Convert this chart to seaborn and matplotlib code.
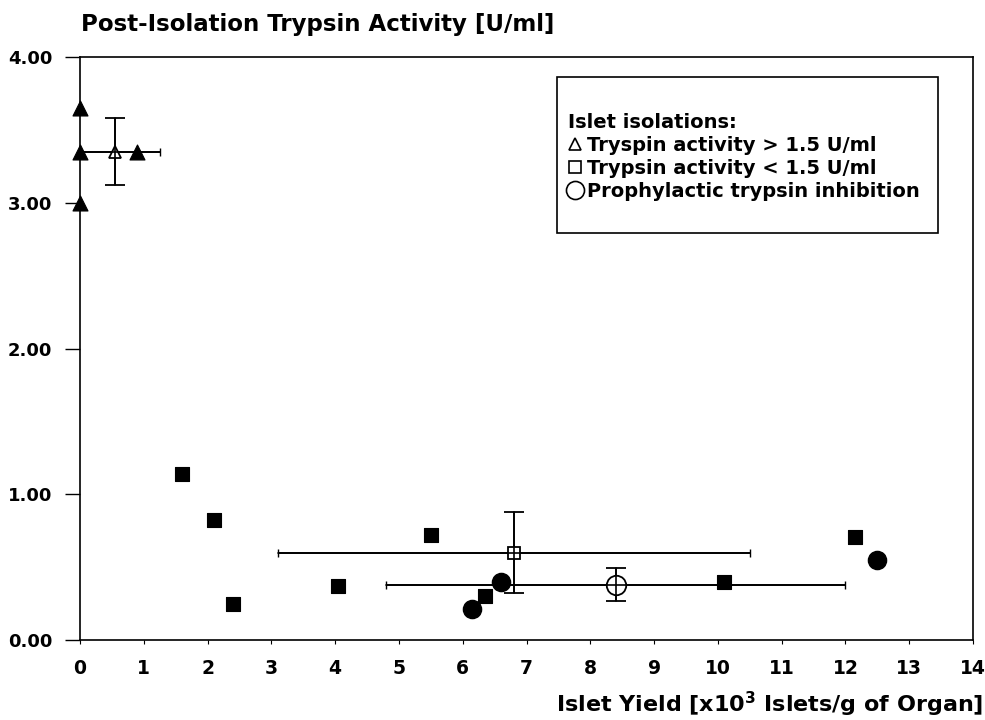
import numpy as np
import pandas as pd
import matplotlib
matplotlib.use("Agg")
import matplotlib.pyplot as plt
import seaborn as sns
from matplotlib.lines import Line2D
from matplotlib.patches import Rectangle

# Individual isolations (filled markers)
tri_x = [0.0, 0.0, 0.0, 0.9]
tri_y = [3.65, 3.35, 3.00, 3.35]

sq_x = [1.6, 2.1, 2.4, 4.05, 5.5, 6.35, 10.1, 12.15]
sq_y = [1.14, 0.82, 0.25, 0.37, 0.72, 0.30, 0.40, 0.71]

circ_x = [6.15, 6.6, 12.5]
circ_y = [0.21, 0.40, 0.55]

# Group means with errors (open markers)
mean_groups = ["tri", "sq", "circ"]
mean_x = [0.55, 6.8, 8.4]
mean_y = [3.35, 0.60, 0.38]
mean_xerr = [0.7, 3.7, 3.6]
mean_yerr = [0.23, 0.28, 0.115]

legend_title = "Islet isolations:"
legend_labels = ["Tryspin activity > 1.5 U/ml",
                 "Trypsin activity < 1.5 U/ml",
                 "Prophylactic trypsin inhibition"]

sns.set_style("white")
plt.rcParams["font.family"] = ["DejaVu Sans"]
plt.rcParams["font.weight"] = "bold"
plt.rcParams["text.color"] = "black"
plt.rcParams["xtick.color"] = "black"
plt.rcParams["ytick.color"] = "black"

df = pd.DataFrame({
    "x": tri_x + sq_x + circ_x,
    "y": tri_y + sq_y + circ_y,
    "group": ["tri"] * len(tri_x) + ["sq"] * len(sq_x) + ["circ"] * len(circ_x),
})

W, H = 985, 720
fig = plt.figure(figsize=(W / 100, H / 100), dpi=100)
ax = fig.add_axes([80 / W, 1 - 640 / H, (973 - 80) / W, (640 - 57) / H])

marker_map = {"tri": "^", "sq": "s", "circ": "o"}
size_map = {"tri": 115, "sq": 100, "circ": 170}
for g in ["tri", "sq", "circ"]:
    sub = df[df["group"] == g]
    sns.scatterplot(data=sub, x="x", y="y", marker=marker_map[g], s=size_map[g],
                    color="black", edgecolor="black", ax=ax, clip_on=False, zorder=3)

open_size = {"tri": 8, "sq": 8.5, "circ": 14}
for g, x, y, xe, ye in zip(mean_groups, mean_x, mean_y, mean_xerr, mean_yerr):
    # horizontal bar with small end ticks
    ax.errorbar(x, y, xerr=xe, fmt="none", ecolor="black", elinewidth=1.3,
                capsize=3, capthick=1.0, zorder=4)
    # vertical bar with wide caps
    ax.errorbar(x, y, yerr=ye, fmt="none", ecolor="black", elinewidth=1.3,
                capsize=7, capthick=1.3, zorder=4)
    ax.plot(x, y, marker=marker_map[g], ms=open_size[g], mfc="white",
            mec="black", mew=1.3, ls="", zorder=5)
    ax.plot([x - xe, x + xe], [y, y], color="black", lw=1.2, zorder=6)
    ax.plot([x, x], [y - ye, y + ye], color="black", lw=1.2, zorder=6)

ax.set_xlim(0, 14)
ax.set_ylim(0, 4)
ax.set_xticks(range(0, 15))
ax.set_yticks([0, 1, 2, 3, 4])
ax.set_yticklabels(["0.00", "1.00", "2.00", "3.00", "4.00"])
ax.tick_params(axis="x", bottom=True, direction="out", length=3, pad=11,
               labelsize=13.5, width=0.8, colors="black")
ax.tick_params(axis="y", left=True, direction="out", length=11, pad=9,
               labelsize=13, width=1, colors="black")
for lab in ax.get_xticklabels() + ax.get_yticklabels():
    lab.set_fontweight("bold")
for sp in ax.spines.values():
    sp.set_color("black")
    sp.set_linewidth(1.2)
ax.set_xlabel("")
ax.set_ylabel("")

fig.text(81 / W, 1 - 31 / H, "Post-Isolation Trypsin Activity [U/ml]",
         fontsize=16.5, fontweight="bold", ha="left", va="baseline", color="black")
fig.text(983 / W, 1 - 712 / H, "Islet Yield [x10$^{\\mathbf{3}}$ Islets/g of Organ]",
         fontsize=16, fontweight="bold", ha="right", va="baseline", color="black")

# legend frame drawn as a box in figure pixels
fig.patches.append(Rectangle((557 / W, 1 - 233 / H), (938 - 557) / W, (233 - 77) / H,
                             transform=fig.transFigure, fill=False,
                             edgecolor="black", linewidth=1.2, zorder=10))

handles = [
    Line2D([], [], marker="^", ls="", ms=8, mfc="white", mec="black", mew=1.2),
    Line2D([], [], marker="s", ls="", ms=8, mfc="white", mec="black", mew=1.2),
    Line2D([], [], marker="o", ls="", ms=13, mfc="white", mec="black", mew=1.2),
]
leg = ax.legend(handles, legend_labels, title=legend_title, loc="upper left",
                bbox_to_anchor=((568 - 80) / (973 - 80), (640 - 113) / (640 - 57)),
                frameon=False, handlelength=0.7, handletextpad=0.3, borderpad=0,
                borderaxespad=0, labelspacing=0.2,
                prop={"size": 14, "weight": "bold"},
                title_fontproperties={"size": 14, "weight": "bold"})
leg._legend_box.align = "left"
for t in leg.get_texts():
    t.set_color("black")
leg.get_title().set_color("black")

fig.savefig("out.png", dpi=100)
